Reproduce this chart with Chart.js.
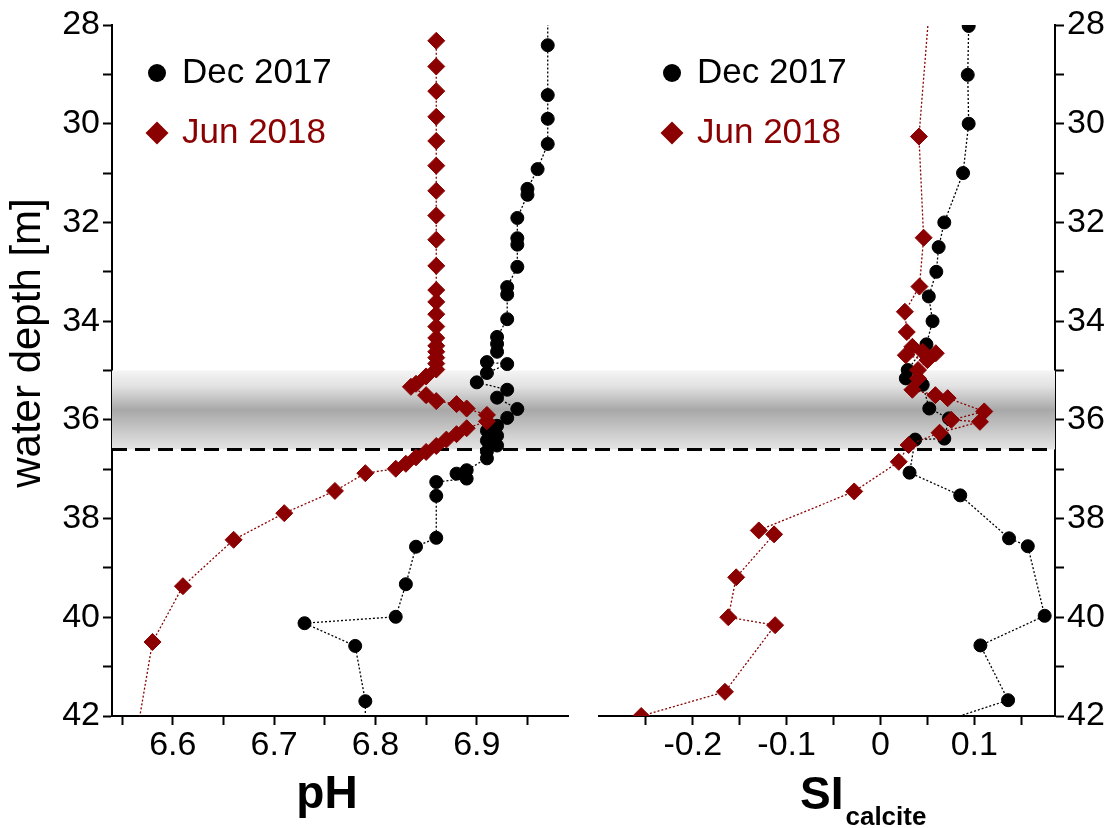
<!DOCTYPE html>
<html>
<head>
<meta charset="utf-8">
<script src="https://cdn.jsdelivr.net/npm/chart.js@4.4.0/dist/chart.umd.min.js"></script>
<style>
  html, body { margin: 0; padding: 0; background: #fff; }
  #chart { display: block; }
</style>
</head>
<body>
<canvas id="chart" width="1113" height="828"></canvas>
<script>
// --- data (depth in m) ---
const decPhDepth = [27.4, 28.41, 29.42, 29.90, 30.41, 30.92, 31.32, 31.44, 31.91, 32.32, 32.45, 32.90, 33.31, 33.46, 33.96,
  34.32, 34.46, 34.62, 34.83, 34.87, 35.05, 35.24, 35.39, 35.55, 35.78, 35.96, 36.12, 36.22, 36.32, 36.42, 36.52, 36.64,
  36.78, 37.02, 37.09, 37.19, 37.26, 37.54, 38.39, 38.57, 39.33, 39.99, 40.12, 40.58, 41.70, 42.5];
const decPh = [6.97, 6.97, 6.97, 6.97, 6.97, 6.96, 6.95, 6.95, 6.94, 6.94, 6.94, 6.94, 6.93, 6.93, 6.93,
  6.92, 6.92, 6.92, 6.91, 6.93, 6.91, 6.90, 6.93, 6.92, 6.94, 6.93, 6.92, 6.91, 6.92, 6.91, 6.92, 6.91,
  6.91, 6.89, 6.88, 6.89, 6.86, 6.86, 6.86, 6.84, 6.83, 6.82, 6.73, 6.78, 6.79, 6.79];

const junPhDepth = [28.32, 28.84, 29.34, 29.86, 30.35, 30.85, 31.36, 31.86, 32.35, 32.88, 33.37, 33.61, 33.86, 34.11,
  34.34, 34.50, 34.62, 34.74, 34.86, 34.98, 35.12, 35.27, 35.33, 35.50, 35.62, 35.68, 35.77, 35.90, 36.03, 36.17,
  36.29, 36.40, 36.53, 36.65, 36.76, 36.89, 36.99, 37.08, 37.44, 37.89, 38.43, 39.37, 40.50, 42.9];
const junPh = [6.86, 6.86, 6.86, 6.86, 6.86, 6.86, 6.86, 6.86, 6.86, 6.86, 6.86, 6.86, 6.86, 6.86,
  6.86, 6.86, 6.86, 6.86, 6.86, 6.86, 6.85, 6.84, 6.835, 6.85, 6.86, 6.88, 6.89, 6.91, 6.91, 6.89,
  6.88, 6.87, 6.86, 6.85, 6.84, 6.83, 6.82, 6.79, 6.76, 6.71, 6.66, 6.61, 6.58, 6.56];

const decSiDepth = [28.02, 29.01, 30.0, 31.0, 32.0, 32.5, 33.0, 33.5, 34.0, 34.47, 34.99, 35.16, 35.29, 35.77, 35.97,
  36.38, 36.40, 37.07, 37.53, 38.40, 38.56, 39.97, 40.57, 41.68, 42.4];
const decSi = [0.094, 0.093, 0.094, 0.088, 0.068, 0.062, 0.0595, 0.0515, 0.0555, 0.049, 0.029, 0.027, 0.045, 0.052, 0.073,
  0.068, 0.037, 0.031, 0.085, 0.137, 0.157, 0.175, 0.1065, 0.136, 0.02];

const junSiDepth = [26.0, 30.26, 32.31, 33.30, 33.81, 34.22, 34.52, 34.62, 34.65, 34.69, 34.79, 34.99, 35.16, 35.39, 35.50,
  35.56, 35.83, 36.00, 36.04, 36.26, 36.51, 36.85, 37.45, 38.24, 38.32, 39.19, 40.00, 40.16, 41.51, 42.0];
const junSi = [0.059, 0.041, 0.046, 0.0415, 0.026, 0.028, 0.034, 0.045, 0.059, 0.027, 0.050, 0.040, 0.040, 0.034, 0.0585,
  0.0716, 0.1106, 0.0755, 0.106, 0.063, 0.030, 0.0195, -0.028, -0.1297, -0.1134, -0.1538, -0.1622, -0.1123, -0.1658, -0.255];

const seriesLabels = ['Dec 2017', 'Jun 2018'];
const depthTicks = [28, 29, 30, 31, 32, 33, 34, 35, 36, 37, 38, 39, 40, 41, 42];
const depthLabels = ['28', '', '30', '', '32', '', '34', '', '36', '', '38', '', '40', '', '42'];
const phTicks = [6.55, 6.6, 6.65, 6.7, 6.75, 6.8, 6.85, 6.9, 6.95];
const phLabels = ['', '6.6', '', '6.7', '', '6.8', '', '6.9', ''];
const siTicks = [-0.25, -0.2, -0.15, -0.1, -0.05, 0, 0.05, 0.1, 0.15];
const siLabels = ['', '-0.2', '', '-0.1', '', '0', '', '0.1', ''];
const bandDepth = [35.0, 36.6];   // shaded chemocline
const dashDepth = 36.6;

const FONT = "'Liberation Sans', Arial, sans-serif";
const RED = '#8b0000';

const pts = (xs, ys) => xs.map((x, i) => ({ x, y: ys[i] }));

const setTicks = list => s => { s.ticks = list.map(value => ({ value })); };
const tickGrid = { display: true, drawOnChartArea: false, drawTicks: true, tickLength: 9, tickWidth: 2, tickColor: '#000' };
const axisBorder = { display: true, color: '#000', width: 2 };
const tickFont = { family: FONT, size: 34 };

function yAxis(position, width) {
  return {
    type: 'linear', position, min: 28, max: 42, reverse: true,
    afterBuildTicks: setTicks(depthTicks),
    afterFit: s => { s.width = width; },
    ticks: { autoSkip: false, padding: 3, color: '#000', font: tickFont, callback: (v, i) => depthLabels[i] },
    grid: tickGrid, border: axisBorder
  };
}

function xAxis(min, max, ticks, labels, weight) {
  return {
    type: 'linear', position: 'bottom', stack: 'x', stackWeight: 456, weight, min, max,
    afterBuildTicks: setTicks(ticks),
    afterFit: s => { s.height = 112; },
    ticks: { autoSkip: false, maxRotation: 0, padding: 0, color: '#000', font: tickFont, callback: (v, i) => labels[i] },
    grid: tickGrid, border: axisBorder
  };
}

function line(label, data, xAxisID, color, style, radius) {
  return {
    label, data, xAxisID, yAxisID: 'y', showLine: true, tension: 0,
    borderColor: color, borderWidth: 1.3, borderDash: [2, 2],
    pointStyle: style, pointRadius: radius, pointBackgroundColor: color,
    pointBorderColor: color, pointBorderWidth: 1
  };
}

function drawMarker(ctx, style, x, y, r, color) {
  ctx.fillStyle = color;
  ctx.beginPath();
  if (style === 'circle') {
    ctx.arc(x, y, r, 0, Math.PI * 2);
  } else {
    ctx.moveTo(x, y - r); ctx.lineTo(x + r, y); ctx.lineTo(x, y + r); ctx.lineTo(x - r, y);
    ctx.closePath();
  }
  ctx.fill();
}

const decor = {
  id: 'decor',
  beforeDatasetsDraw(chart) {
    const { ctx, chartArea: a, scales: { y } } = chart;
    const top = y.getPixelForValue(bandDepth[0]);
    const bot = y.getPixelForValue(bandDepth[1]);
    const g = ctx.createLinearGradient(0, top, 0, bot);
    g.addColorStop(0, '#f4f4f4');
    g.addColorStop(0.2, '#e2e2e2');
    g.addColorStop(0.5, '#a8a8a8');
    g.addColorStop(0.8, '#cdcdcd');
    g.addColorStop(1, '#e4e4e4');
    ctx.save();
    ctx.fillStyle = g;
    ctx.fillRect(a.left, top, a.right - a.left, bot - top);
    const yd = y.getPixelForValue(dashDepth);
    ctx.strokeStyle = '#000';
    ctx.lineWidth = 3;
    ctx.setLineDash([15, 8]);
    ctx.beginPath();
    ctx.moveTo(a.left, yd);
    ctx.lineTo(a.right, yd);
    ctx.stroke();
    ctx.restore();
  },
  afterDraw(chart) {
    const { ctx, chartArea: a, scales } = chart;
    ctx.save();
    // legends, one per panel
    [scales.xPH.left + 45, scales.xSI.left + 73].forEach(mx => {
      [['circle', '#000', 9], ['diamond', RED, 11.5]].forEach(([style, color, r], row) => {
        const my = a.top + 48 + row * 60;
        drawMarker(ctx, style, mx, my, r, color);
        ctx.fillStyle = color;
        ctx.font = '35px ' + FONT;
        ctx.textAlign = 'left';
        ctx.textBaseline = 'middle';
        ctx.fillText(seriesLabels[row], mx + 25, my);
      });
    });
    // axis titles
    ctx.fillStyle = '#000';
    ctx.textBaseline = 'alphabetic';
    ctx.font = 'bold 46px ' + FONT;
    ctx.textAlign = 'center';
    ctx.fillText('pH', (scales.xPH.left + scales.xPH.right) / 2 - 13, 808);
    ctx.textAlign = 'left';
    const sx = scales.xSI.left + 201;
    ctx.fillText('SI', sx, 809);
    const w = ctx.measureText('SI').width;
    ctx.font = 'bold 26px ' + FONT;
    ctx.fillText('calcite', sx + w + 2, 825);
    // y title
    ctx.translate(28, 343);
    ctx.rotate(-Math.PI / 2);
    ctx.textAlign = 'center';
    ctx.textBaseline = 'middle';
    ctx.font = '42px ' + FONT;
    ctx.fillText('water depth [m]', 0, 0);
    ctx.restore();
  }
};

new Chart(document.getElementById('chart'), {
  type: 'scatter',
  data: {
    datasets: [
      line(seriesLabels[1], pts(junPh, junPhDepth), 'xPH', RED, 'rectRot', 8.5),
      line(seriesLabels[1], pts(junSi, junSiDepth), 'xSI', RED, 'rectRot', 8.5),
      line(seriesLabels[0], pts(decPh, decPhDepth), 'xPH', '#000', 'circle', 6.5),
      line(seriesLabels[0], pts(decSi, decSiDepth), 'xSI', '#000', 'circle', 6.5)
    ]
  },
  options: {
    responsive: false,
    animation: false,
    events: [],
    layout: { padding: { top: 25, left: 0, right: 0, bottom: 0 } },
    plugins: { legend: { display: false }, tooltip: { enabled: false } },
    scales: {
      y: yAxis('left', 112),
      y2: yAxis('right', 58),
      xPH: xAxis(6.54, 6.99, phTicks, phLabels, 1),
      xGap: {
        type: 'linear', position: 'bottom', stack: 'x', stackWeight: 31, weight: 2,
        afterFit: s => { s.height = 112; },
        ticks: { display: false }, grid: { display: false }, border: { display: false }
      },
      xSI: xAxis(-0.30, 0.186, siTicks, siLabels, 3)
    }
  },
  plugins: [decor]
});
</script>
</body>
</html>
